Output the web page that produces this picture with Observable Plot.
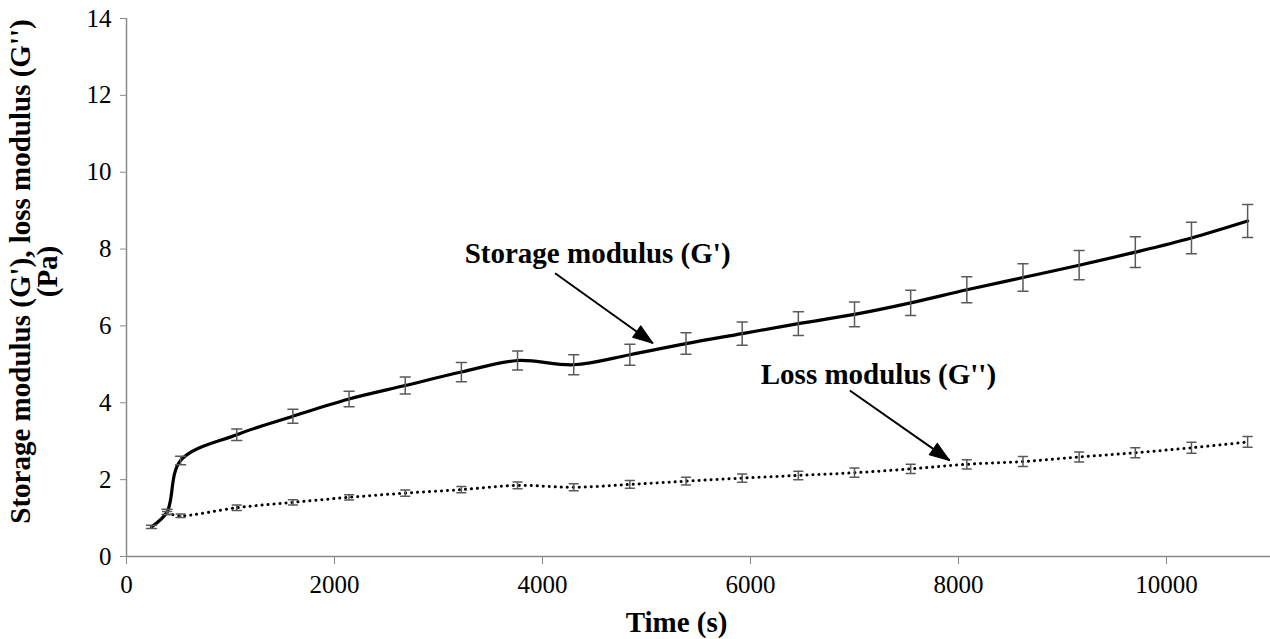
<!DOCTYPE html>
<html>
<head>
<meta charset="utf-8">
<script src="https://cdn.jsdelivr.net/npm/d3@7"></script>
<script src="https://cdn.jsdelivr.net/npm/@observablehq/plot@0.6"></script>
<style>
  html, body { margin: 0; padding: 0; background: #fff; }
  #chart { width: 1270px; height: 639px; overflow: hidden; }
  #chart svg, #chart svg text, #chart svg g { font-family: "Liberation Serif", "Times New Roman", serif !important; }
</style>
</head>
<body>
<div id="chart"></div>
<script>
// ---- data ----
const times = [240, 390, 520, 1060, 1600, 2140, 2680, 3220, 3760, 4300, 4840, 5380, 5920, 6460, 7000, 7540, 8080, 8620, 9160, 9700, 10240, 10780];
const storageModulus = [0.77, 1.16, 2.50, 3.17, 3.65, 4.10, 4.45, 4.80, 5.10, 4.99, 5.25, 5.54, 5.80, 6.06, 6.30, 6.60, 6.94, 7.26, 7.58, 7.92, 8.29, 8.73];
const storageError = [0.04, 0.07, 0.11, 0.15, 0.18, 0.20, 0.22, 0.25, 0.25, 0.26, 0.27, 0.28, 0.30, 0.31, 0.32, 0.33, 0.34, 0.36, 0.38, 0.40, 0.41, 0.43];
const lossTimes = [390, 520, 1060, 1600, 2140, 2680, 3220, 3760, 4300, 4840, 5380, 5920, 6460, 7000, 7540, 8080, 8620, 9160, 9700, 10240, 10780];
const lossModulus = [1.13, 1.06, 1.27, 1.41, 1.54, 1.65, 1.74, 1.85, 1.80, 1.875, 1.96, 2.04, 2.11, 2.18, 2.28, 2.40, 2.47, 2.59, 2.70, 2.83, 2.98];
const lossError = [0.04, 0.045, 0.07, 0.07, 0.07, 0.08, 0.08, 0.09, 0.09, 0.10, 0.10, 0.11, 0.11, 0.12, 0.12, 0.12, 0.13, 0.13, 0.13, 0.14, 0.14];
const xTicks = [0, 2000, 4000, 6000, 8000, 10000];
const yTicks = [0, 2, 4, 6, 8, 10, 12, 14];
const xLabel = "Time (s)";
const yLabel = "Storage modulus (G'), loss modulus (G'')\n(Pa)";
const storageLabel = "Storage modulus (G')";
const lossLabel = "Loss modulus (G'')";
// annotation anchors (data coords)
const storageText = {x: 4530, y: 7.89};
const lossText = {x: 7230, y: 4.74};
const storageArrow = {x1: 4121, y1: 7.37, x2: 5062, y2: 5.55};
const lossArrow = {x1: 6955, y1: 4.32, x2: 7915, y2: 2.50};

// ---- tables ----
const storage = times.map((t, i) => ({t, v: storageModulus[i], lo: storageModulus[i] - storageError[i], hi: storageModulus[i] + storageError[i]}));
const loss = lossTimes.map((t, i) => ({t, v: lossModulus[i], lo: lossModulus[i] - lossError[i], hi: lossModulus[i] + lossError[i]}));

const W = 1270, H = 639, ML = 126, MR = 0, MT = 18, MB = 83;
const xDomain = [0, 11000], yDomain = [0, 14];
const kx = (W - ML - MR) / (xDomain[1] - xDomain[0]);
const ky = (H - MT - MB) / (yDomain[1] - yDomain[0]);
const angleOf = a => Math.atan2((a.x2 - a.x1) * kx, (a.y2 - a.y1) * ky) * 180 / Math.PI;
const arrows = [storageArrow, lossArrow].map(a => ({...a, rot: angleOf(a)}));

const capShape = {draw(ctx, l) { ctx.moveTo(0, 0); ctx.lineTo(0, -l); }};
const headShape = {draw(ctx, l, r) { ctx.moveTo(0, -l); ctx.lineTo(-r, 0); ctx.lineTo(r, 0); ctx.closePath(); }};

const SERIF = "'Liberation Serif', 'Times New Roman', serif";
const barColor = "#5a5a5a";
const axisColor = "#8a8a8a";

const chart = Plot.plot({
  width: W, height: H,
  marginLeft: ML, marginRight: MR, marginTop: MT, marginBottom: MB,
  style: {fontFamily: SERIF, fontSize: "25px", color: "black", background: "white"},
  x: {domain: xDomain},
  y: {domain: yDomain},
  marks: [
    Plot.ruleY([0], {stroke: axisColor, strokeWidth: 1.5}),
    Plot.ruleX([0], {stroke: axisColor, strokeWidth: 1.5}),
    Plot.axisX({ticks: xTicks, tickSize: 8, tickPadding: 11, stroke: axisColor, fill: "black", fontSize: 25, fontFamily: SERIF, label: null, tickFormat: d => String(d)}),
    Plot.axisY({ticks: yTicks, tickSize: 6, tickPadding: 9, stroke: axisColor, fill: "black", fontSize: 25, fontFamily: SERIF, label: null, tickFormat: d => String(d)}),
    // series
    Plot.line(loss, {x: "t", y: "v", curve: "catmull-rom", stroke: "black", strokeWidth: 3, strokeDasharray: "0.1,5.9", strokeLinecap: "round"}),
    Plot.line(storage, {x: "t", y: "v", curve: "catmull-rom", stroke: "black", strokeWidth: 3.2}),
    // error bars
    Plot.link(storage, {x1: "t", x2: "t", y1: "lo", y2: "hi", stroke: barColor, strokeWidth: 1.5}),
    Plot.vector(storage, {x: "t", y: "lo", length: 10, rotate: 90, anchor: "middle", shape: capShape, stroke: barColor, strokeWidth: 1.5}),
    Plot.vector(storage, {x: "t", y: "hi", length: 10, rotate: 90, anchor: "middle", shape: capShape, stroke: barColor, strokeWidth: 1.5}),
    Plot.link(loss, {x1: "t", x2: "t", y1: "lo", y2: "hi", stroke: barColor, strokeWidth: 1.5}),
    Plot.vector(loss, {x: "t", y: "lo", length: 9, rotate: 90, anchor: "middle", shape: capShape, stroke: barColor, strokeWidth: 1.5}),
    Plot.vector(loss, {x: "t", y: "hi", length: 9, rotate: 90, anchor: "middle", shape: capShape, stroke: barColor, strokeWidth: 1.5}),
    // annotations
    Plot.link(arrows, {x1: "x1", y1: "y1", x2: "x2", y2: "y2", stroke: "black", strokeWidth: 2}),
    Plot.vector(arrows, {x: "x2", y: "y2", rotate: "rot", length: 20, r: 7, anchor: "end", shape: headShape, stroke: "black", fill: "black", strokeWidth: 1}),
    Plot.text([storageLabel], {x: storageText.x, y: storageText.y, fontFamily: SERIF, fontWeight: "bold", fontSize: 29, fill: "black", textAnchor: "middle", lineAnchor: "middle"}),
    Plot.text([lossLabel], {x: lossText.x, y: lossText.y, fontFamily: SERIF, fontWeight: "bold", fontSize: 29, fill: "black", textAnchor: "middle", lineAnchor: "middle"}),
    // axis titles
    Plot.text([xLabel], {frameAnchor: "bottom", dx: -22, dy: 75, lineAnchor: "bottom", fontFamily: SERIF, fontWeight: "bold", fontSize: 29, fill: "black"}),
    Plot.text([yLabel], {frameAnchor: "left", dx: -92, dy: -16, rotate: -90, lineAnchor: "middle", textAnchor: "middle", lineHeight: 0.95, fontFamily: SERIF, fontWeight: "bold", fontSize: 29, fill: "black"})
  ]
});
document.getElementById("chart").appendChild(chart);
</script>
</body>
</html>
